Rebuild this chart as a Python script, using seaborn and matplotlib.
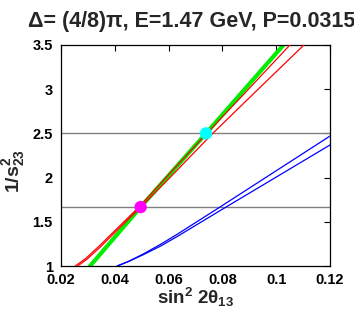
import numpy as np
import pandas as pd
import matplotlib
matplotlib.use("Agg")
import matplotlib.pyplot as plt
import seaborn as sns

# ---- data ----
red_a_x = [0.0253, 0.0290, 0.0340, 0.0400, 0.0490, 0.0590, 0.0742, 0.0897, 0.1051]
red_a_y = [1.0, 1.08, 1.22, 1.40, 1.667, 2.0, 2.5, 3.0, 3.5]
red_b_x = [0.0262, 0.0298, 0.0348, 0.0407, 0.0497, 0.0605, 0.0764, 0.0933, 0.1103]
red_b_y = [1.0, 1.08, 1.22, 1.40, 1.667, 2.0, 2.5, 3.0, 3.5]
green_x = [0.0308, 0.0496, 0.0739, 0.1027]
green_y = [1.0, 1.667, 2.5, 3.5]
blue_a_x = [0.0409, 0.0450, 0.0506, 0.0570, 0.0630, 0.0791, 0.1200]
blue_a_y = [1.0, 1.050, 1.136, 1.245, 1.355, 1.667, 2.470]
blue_b_x = [0.0409, 0.0450, 0.0506, 0.0570, 0.0630, 0.0791, 0.1200]
blue_b_y = [1.0, 1.050, 1.128, 1.225, 1.330, 1.626, 2.369]
hlines_y = [2.5, 5.0 / 3.0]
point_x = [0.0496, 0.0739]
point_y = [5.0 / 3.0, 2.5]
point_colors = ["#ff00ff", "#00ffff"]
xticks = [0.02, 0.04, 0.06, 0.08, 0.1, 0.12]
xticklabels = ["0.02", "0.04", "0.06", "0.08", "0.1", "0.12"]
yticks = [1, 1.5, 2, 2.5, 3, 3.5]
yticklabels = ["1", "1.5", "2", "2.5", "3", "3.5"]
title = "\u0394= (4/8)\u03c0, E=1.47 GeV, P=0.0315"

sns.set_style("white")
plt.rcParams["font.family"] = ["Liberation Sans", "DejaVu Sans"]
plt.rcParams["font.weight"] = "bold"
plt.rcParams["mathtext.fontset"] = "custom"
plt.rcParams["mathtext.rm"] = "Liberation Sans:bold"
plt.rcParams["mathtext.it"] = "Liberation Sans:bold"
plt.rcParams["mathtext.bf"] = "Liberation Sans:bold"

fig = plt.figure(figsize=(3.54, 3.11), dpi=100)
ax = fig.add_axes([61 / 354, 1 - 266 / 311, 269 / 354, 221 / 311])

for yv in hlines_y:
    ax.axhline(yv, color="#808080", lw=1.0, zorder=1)

sns.lineplot(x=green_x, y=green_y, sort=False, estimator=None, color="#00ee00",
             lw=3.0, ax=ax, zorder=2)
for xs, ys in [(red_a_x, red_a_y), (red_b_x, red_b_y)]:
    sns.lineplot(x=xs, y=ys, sort=False, estimator=None, color="#ff0000",
                 lw=0.9, ax=ax, zorder=3)
for xs, ys in [(blue_a_x, blue_a_y), (blue_b_x, blue_b_y)]:
    sns.lineplot(x=xs, y=ys, sort=False, estimator=None, color="#0000ff",
                 lw=0.9, ax=ax, zorder=3)

sns.scatterplot(x=point_x, y=point_y, hue=[0, 1], palette=point_colors,
                s=80, edgecolor="none", legend=False, ax=ax, zorder=4)

ax.set_xlim(0.02, 0.12)
ax.set_ylim(1, 3.5)
ax.set_xticks(xticks)
ax.set_xticklabels(xticklabels)
ax.set_yticks(yticks)
ax.set_yticklabels(yticklabels)
ax.tick_params(axis="x", pad=5)
ax.tick_params(axis="y", pad=6)
ax.tick_params(direction="in", top=True, right=True, length=4, width=0.8,
               labelsize=10.5, colors="black")
for lab in ax.get_xticklabels() + ax.get_yticklabels():
    lab.set_fontweight("bold")
for sp in ax.spines.values():
    sp.set_color("black")
    sp.set_linewidth(0.9)

ax.set_xlabel(r"sin$^2$ 2$\theta_{13}$", fontsize=13.5, fontweight="bold")
ax.xaxis.set_label_coords(0.5, -0.092)
ax.xaxis.label.set_va("top")
ax.set_ylabel(r"1/s$^2_{23}$", fontsize=14, fontweight="bold")
ax.yaxis.set_label_coords(-0.125, 0.43)

fig.text(28 / 354, 1 - 27 / 311, title, fontsize=15.5, fontweight="bold",
         ha="left", va="baseline")

fig.savefig("out.png", dpi=100)
